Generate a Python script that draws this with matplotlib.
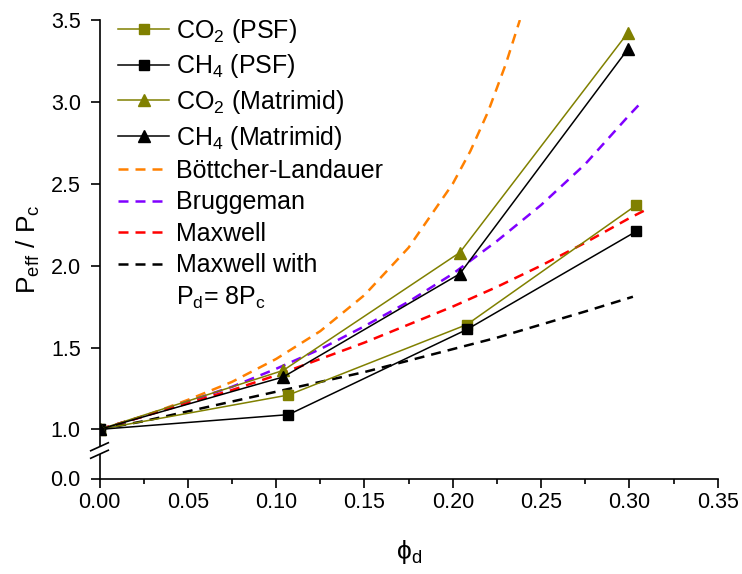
import numpy as np
import matplotlib
matplotlib.use("Agg")
import matplotlib.pyplot as plt
from matplotlib.lines import Line2D

plt.rcParams['font.family'] = ['Liberation Sans', 'DejaVu Sans']
plt.rcParams['mathtext.fontset'] = 'custom'
plt.rcParams['mathtext.rm'] = 'Liberation Sans'
plt.rcParams['mathtext.it'] = 'Liberation Sans'
plt.rcParams['mathtext.default'] = 'regular'

# ---- measured data ----
x_psf = [0.0, 0.107, 0.208, 0.304]
co2_psf = [1.00, 1.21, 1.64, 2.37]
ch4_psf = [1.00, 1.09, 1.61, 2.21]

x_mat = [0.0, 0.104, 0.204, 0.299]
co2_mat = [1.00, 1.36, 2.08, 3.42]
ch4_mat = [1.00, 1.32, 1.95, 3.32]

# ---- model curves ----
x_bl = [0.0, 0.025, 0.05, 0.075, 0.10, 0.125, 0.15, 0.175, 0.20, 0.21, 0.22, 0.23, 0.238]
y_bl = [1.00, 1.08, 1.18, 1.29, 1.43, 1.60, 1.82, 2.11, 2.50, 2.70, 2.94, 3.23, 3.50]

x_br = [0.0, 0.025, 0.05, 0.075, 0.10, 0.125, 0.15, 0.175, 0.20, 0.225, 0.25, 0.275, 0.30, 0.307]
y_br = [1.00, 1.08, 1.17, 1.26, 1.37, 1.49, 1.63, 1.78, 1.95, 2.15, 2.37, 2.62, 2.92, 3.00]

x_mx = [0.0, 0.025, 0.05, 0.075, 0.10, 0.125, 0.15, 0.175, 0.20, 0.225, 0.25, 0.275, 0.30, 0.311]
y_mx = [1.00, 1.08, 1.16, 1.24, 1.33, 1.43, 1.53, 1.64, 1.75, 1.87, 2.00, 2.14, 2.29, 2.35]

x_mx8 = [0.0, 0.025, 0.05, 0.075, 0.10, 0.125, 0.15, 0.175, 0.20, 0.225, 0.25, 0.275, 0.302]
y_mx8 = [1.00, 1.05, 1.11, 1.17, 1.23, 1.29, 1.35, 1.42, 1.49, 1.56, 1.64, 1.72, 1.81]

x_ticks = [0.00, 0.05, 0.10, 0.15, 0.20, 0.25, 0.30, 0.35]
y_ticks = [0.0, 1.0, 1.5, 2.0, 2.5, 3.0, 3.5]

OLIVE = '#808000'
ORANGE = '#FF8000'
PURPLE = '#8000FF'
RED = '#FF0000'

W, H = 742, 574
fig = plt.figure(figsize=(W / 100, H / 100), dpi=100)
L, R, B, T = 99.5, 717.7, 478.5, 20.0
ax = fig.add_axes([L / W, 1 - B / H, (R - L) / W, (B - T) / H])

def fwd(y):
    y = np.asarray(y, dtype=float)
    return np.where(y >= 1.0, y, 0.7 + 0.3 * y)

def inv(t):
    t = np.asarray(t, dtype=float)
    return np.where(t >= 1.0, t, (t - 0.7) / 0.3)

ax.set_yscale('function', functions=(fwd, inv))

dash = (4, 2.8)
lwd = 1.8
ax.plot(x_bl, y_bl, color=ORANGE, lw=lwd, dashes=dash, label='Böttcher-Landauer', zorder=2)
ax.plot(x_br, y_br, color=PURPLE, lw=lwd, dashes=dash, label='Bruggeman', zorder=2)
ax.plot(x_mx, y_mx, color=RED, lw=lwd, dashes=dash, label='Maxwell', zorder=2)
ax.plot(x_mx8, y_mx8, color='black', lw=lwd, dashes=dash, label='Maxwell with', zorder=2)

ax.plot(x_psf, co2_psf, color=OLIVE, lw=1.1, marker='s', ms=7, mec=OLIVE, mfc=OLIVE,
        label='CO$_2$ (PSF)', zorder=3)
ax.plot(x_psf, ch4_psf, color='black', lw=1.1, marker='s', ms=7,
        label='CH$_4$ (PSF)', zorder=3)
ax.plot(x_mat, co2_mat, color=OLIVE, lw=1.1, marker='^', ms=9, mec=OLIVE, mfc=OLIVE,
        label='CO$_2$ (Matrimid)', zorder=3)
ax.plot(x_mat, ch4_mat, color='black', lw=1.1, marker='^', ms=9,
        label='CH$_4$ (Matrimid)', zorder=3)

ax.set_xlim(0, 0.35)
ax.set_ylim(0, 3.5)
ax.set_xticks(x_ticks)
ax.set_xticklabels([f'{v:.2f}' for v in x_ticks])
ax.set_xticks([v + 0.025 for v in x_ticks[:-1]], minor=True)
ax.set_yticks(y_ticks)
ax.set_yticklabels([f'{v:.1f}' for v in y_ticks])
ax.yaxis.set_minor_locator(matplotlib.ticker.NullLocator())

for s in ['top', 'right']:
    ax.spines[s].set_visible(False)
for s in ['left', 'bottom']:
    ax.spines[s].set_linewidth(1.2)

ax.tick_params(axis='both', which='major', direction='out', length=6.5, width=1.2,
               labelsize=15.5)
ax.tick_params(axis='x', which='minor', direction='out', length=3.5, width=1.2)
ax.tick_params(axis='x', which='major', pad=3)
ax.tick_params(axis='y', which='major', pad=7)

ax.set_xlabel('ϕ$_d$', fontsize=19, labelpad=18)
ax.set_ylabel('P$_{eff}$ / P$_c$', fontsize=19, labelpad=6)

# axis break marks
yb = (B - 450.5) / (B - T)
dy = 7.5 / (B - T)
gx = 8.8 / (R - L)
gy = 4.0 / (B - T)
ax.plot([0, 0], [yb - dy / 2, yb + dy / 2], transform=ax.transAxes, color='white',
        lw=3, clip_on=False, zorder=5, solid_capstyle='butt')
for off in (-dy / 2, dy / 2):
    ax.plot([-gx, gx], [yb + off - gy, yb + off + gy], transform=ax.transAxes,
            color='black', lw=1.2, clip_on=False, zorder=6)

# legend
h = {l.get_label(): l for l in ax.get_lines()}
order = ['CO$_2$ (PSF)', 'CH$_4$ (PSF)', 'CO$_2$ (Matrimid)', 'CH$_4$ (Matrimid)',
         'Böttcher-Landauer', 'Bruggeman', 'Maxwell', 'Maxwell with']
handles = [h[k] for k in order] + [Line2D([], [], color='none')]
labels = order + ['P$_d$= 8P$_c$']
ax.legend(handles, labels, loc='upper left', bbox_to_anchor=(118 / W, 1 - 17 / H),
          bbox_transform=fig.transFigure, frameon=False, fontsize=18,
          borderpad=0, borderaxespad=0, handlelength=2.05, handletextpad=0.28,
          labelspacing=0.3, markerscale=1.0)

fig.savefig('out.png', dpi=100)
